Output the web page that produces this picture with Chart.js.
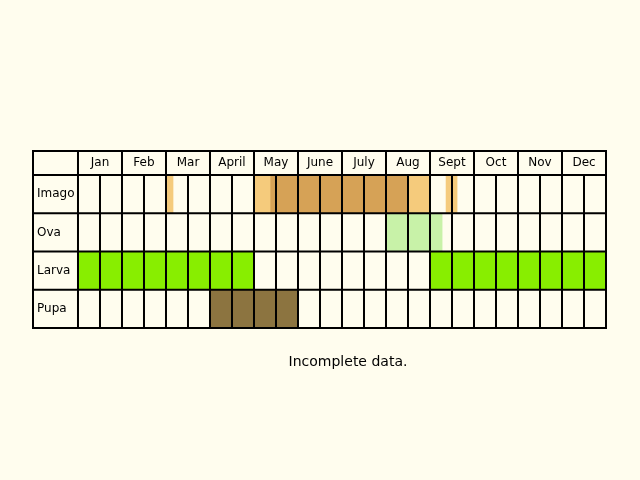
<!DOCTYPE html>
<html><head><meta charset="utf-8">
<script src="https://cdn.jsdelivr.net/npm/chart.js@4"></script>
<style>html,body{margin:0;background:#fffdee}#w{width:640px;height:480px}</style>
</head><body><div id="w"><canvas id="c"></canvas></div>
<script>
const months = ["Jan","Feb","Mar","April","May","June","July","Aug","Sept","Oct","Nov","Dec"];
const stages = ["Imago","Ova","Larva","Pupa"];
// values in half-month units (0 = start of Jan, 24 = end of Dec)
const imagoLight1 = [4, 4.32];
const imagoLight2 = [8, 8.73];
const imagoLight3 = [15, 15.95];
const imagoLight4 = [16.73, 17.23];
const imagoPeak = [8.73, 15];
const ovaSpan = [14, 16.55];
const larvaSpring = [0, 8];
const larvaAutumn = [16, 24];
const pupaSpan = [6, 10];

function row(i, v){ const d=[null,null,null,null]; d[i]=v; return d; }
const ds = (v,i,c)=>({data:row(i,v),backgroundColor:c,borderWidth:0,grouped:false,barPercentage:1,categoryPercentage:1});
const LO='#f5cb7c', DK='#d6a256';
const gridPlugin = {
  id:'grid',
  afterDatasetsDraw(ch){
    const x=ch.scales.x, a=ch.chartArea, ctx=ch.ctx;
    const top=151, hb=a.top, rowH=(a.bottom-a.top)/stages.length;
    ctx.save();
    ctx.strokeStyle='#000'; ctx.lineWidth=2;
    ctx.beginPath();
    ctx.rect(a.left, top, a.right-a.left, a.bottom-top);
    for(let r=0;r<stages.length;r++){ const y=hb+r*rowH; ctx.moveTo(a.left,y); ctx.lineTo(a.right,y); }
    for(let k=0;k<24;k++){
      const px=x.getPixelForValue(k);
      ctx.moveTo(px, k%2===0?top:hb); ctx.lineTo(px,a.bottom);
    }
    ctx.stroke();
    ctx.fillStyle='#000'; ctx.font='12px "DejaVu Sans", sans-serif';
    ctx.textAlign='center'; ctx.textBaseline='middle';
    months.forEach((m,i)=>ctx.fillText(m, x.getPixelForValue(2*i+1), (top+hb)/2));
    ctx.textAlign='left';
    stages.forEach((s,i)=>ctx.fillText(s, a.left+4, hb+(i+0.5)*rowH));
    ctx.textAlign='center'; ctx.font='14px "DejaVu Sans", sans-serif';
    ctx.fillText('Incomplete data.', 348, 362);
    ctx.restore();
  }
};
new Chart(document.getElementById('c'),{
  type:'bar',
  data:{labels:stages,datasets:[
    ds(imagoLight1,0,LO),ds(imagoLight2,0,LO),ds(imagoLight3,0,LO),ds(imagoLight4,0,LO),
    ds(imagoPeak,0,DK),ds(ovaSpan,1,'#c8f2a8'),
    ds(larvaSpring,2,'#88ee00'),ds(larvaAutumn,2,'#88ee00'),ds(pupaSpan,3,'#8c7440')
  ]},
  options:{
    indexAxis:'y',responsive:true,maintainAspectRatio:false,animation:false,
    layout:{padding:{left:33,right:34,top:175,bottom:152}},
    plugins:{legend:{display:false},tooltip:{enabled:false}},
    scales:{x:{type:'linear',min:-2.045,max:24,display:false},y:{display:false}}
  },
  plugins:[gridPlugin]
});
</script></body></html>
